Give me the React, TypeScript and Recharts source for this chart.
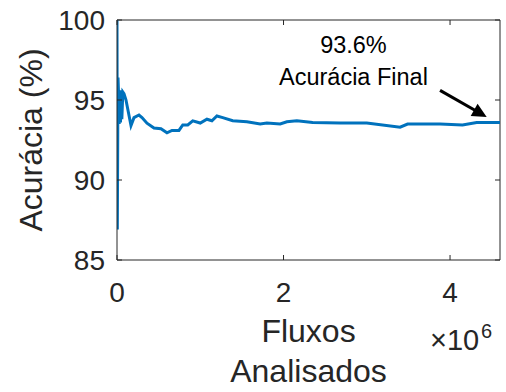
import { LineChart, Line, XAxis, YAxis, ReferenceLine, ReferenceDot } from 'recharts'

// fluxos analisados (x10^6) and running accuracy (%)
const FLOWS = [
  0, 0.004, 0.012, 0.02, 0.026, 0.034, 0.042, 0.048, 0.058, 0.07, 0.084, 0.108, 0.168, 0.204,
  0.264, 0.3, 0.36, 0.444, 0.528, 0.6, 0.66, 0.744, 0.79, 0.85, 0.91, 1.0, 1.08, 1.14, 1.2, 1.27,
  1.39, 1.56, 1.72, 1.8, 1.96, 2.04, 2.16, 2.35, 2.68, 3.0, 3.4, 3.49, 3.88, 4.15, 4.32, 4.6,
]
const ACCURACY = [
  100, 86.9, 96.4, 95.2, 93.5, 95.6, 93.6, 95.6, 93.8, 95.5, 95.4, 95.0, 93.4, 93.9,
  94.06, 93.9, 93.55, 93.25, 93.2, 92.95, 93.1, 93.1, 93.44, 93.44, 93.7, 93.56, 93.8, 93.7, 94.0, 93.9,
  93.7, 93.64, 93.5, 93.56, 93.5, 93.64, 93.7, 93.6, 93.56, 93.56, 93.3, 93.5, 93.5, 93.44, 93.6, 93.6,
]
const X_TICKS = [0, 2, 4]
const Y_TICKS = [85, 90, 95, 100]
const X_MAX = 4.6
const FINAL_LABEL = ['93.6%', 'Acurácia Final']
const ARROW_FROM = { x: 3.88, y: 95.6 }
const ARROW_TO = { x: 4.44, y: 93.94 }
const LABEL_AT = { x: 2.84, y: 97.94 }

const data = FLOWS.map((f, i) => ({ f, acc: ACCURACY[i] }))

const W = 506
const H = 392
const LEFT = 117
const RIGHT = 500
const TOP = 20
const BOTTOM = 260
const INK = '#262626'
const FONT = '"Liberation Sans", Arial, sans-serif'

const YTick = (props: any) => {
  const { y, payload } = props
  return (
    <g>
      <text x={LEFT - 12} y={y + 10} textAnchor="end" fontSize={28} fill={INK} fontFamily={FONT}>
        {payload.value}
      </text>
      <line x1={LEFT} x2={LEFT + 5} y1={y} y2={y} stroke={INK} />
      <line x1={RIGHT - 5} x2={RIGHT} y1={y} y2={y} stroke={INK} />
    </g>
  )
}

const XTick = (props: any) => {
  const { x, payload } = props
  return (
    <g>
      <text x={x} y={BOTTOM + 42} textAnchor="middle" fontSize={28} fill={INK} fontFamily={FONT}>
        {payload.value}
      </text>
      <line x1={x} x2={x} y1={BOTTOM - 5} y2={BOTTOM} stroke={INK} />
      <line x1={x} x2={x} y1={TOP} y2={TOP + 5} stroke={INK} />
    </g>
  )
}

const Arrow = (props: any) => {
  const { x1, y1, x2, y2 } = props
  const ang = Math.atan2(y2 - y1, x2 - x1)
  const len = 16
  const spread = 0.45
  const p1 = [x2 - len * Math.cos(ang - spread), y2 - len * Math.sin(ang - spread)]
  const p2 = [x2 - len * Math.cos(ang + spread), y2 - len * Math.sin(ang + spread)]
  return (
    <g>
      <line x1={x1} y1={y1} x2={x2 - 8 * Math.cos(ang)} y2={y2 - 8 * Math.sin(ang)} stroke="#000" strokeWidth={3} />
      <polygon points={`${x2},${y2} ${p1[0]},${p1[1]} ${p2[0]},${p2[1]}`} fill="#000" />
    </g>
  )
}

const FinalText = (props: any) => {
  const { cx, cy } = props
  return (
    <text textAnchor="middle" fontSize={23.5} fill="#000" fontFamily={FONT}>
      <tspan x={cx} y={cy}>{FINAL_LABEL[0]}</tspan>
      <tspan x={cx} y={cy + 32}>{FINAL_LABEL[1]}</tspan>
    </text>
  )
}

export default function App() {
  return (
    <div style={{ position: 'absolute', left: 0, top: 0, background: '#fff' }}>
      <LineChart width={W} height={H} data={data} margin={{ top: TOP, right: W - RIGHT, bottom: 0, left: 0 }}>
        <XAxis
          dataKey="f"
          type="number"
          domain={[0, X_MAX]}
          ticks={X_TICKS}
          tick={<XTick />}
          tickLine={false}
          axisLine={{ stroke: INK }}
          height={H - BOTTOM}
          allowDataOverflow
          label={{
            content: (p: any) => {
              const vb = p.viewBox
              const cx = vb.x + vb.width / 2
              return (
                <g fontFamily={FONT} fill={INK}>
                  <text x={cx} y={vb.y + 82} textAnchor="middle" fontSize={32}>Fluxos</text>
                  <text x={cx} y={vb.y + 122} textAnchor="middle" fontSize={32}>Analisados</text>
                  <text x={430} y={vb.y + 90} fontSize={29}>×10</text>
                  <text x={481} y={vb.y + 78} fontSize={20}>6</text>
                </g>
              )
            },
          }}
        />
        <YAxis
          type="number"
          domain={[85, 100]}
          ticks={Y_TICKS}
          tick={<YTick />}
          tickLine={false}
          axisLine={{ stroke: INK }}
          width={LEFT}
          allowDataOverflow
          label={{
            content: () => {
              const cy = TOP + (BOTTOM - TOP) / 2
              return (
                <text
                  x={31}
                  y={cy}
                  transform={`rotate(-90 31 ${cy})`}
                  textAnchor="middle"
                  dominantBaseline="central"
                  fontSize={32}
                  fill={INK}
                  fontFamily={FONT}
                >
                  Acurácia (%)
                </text>
              )
            },
          }}
        />
        <ReferenceLine y={100} stroke={INK} />
        <ReferenceLine x={X_MAX} stroke={INK} />
        <Line
          type="linear"
          dataKey="acc"
          stroke="#0072BD"
          strokeWidth={3}
          dot={false}
          isAnimationActive={false}
        />
        <ReferenceLine
          segment={[ARROW_FROM, ARROW_TO]}
          shape={<Arrow />}
          ifOverflow="visible"
        />
        <ReferenceDot x={LABEL_AT.x} y={LABEL_AT.y} r={0} shape={<FinalText />} ifOverflow="visible" />
      </LineChart>
    </div>
  )
}
